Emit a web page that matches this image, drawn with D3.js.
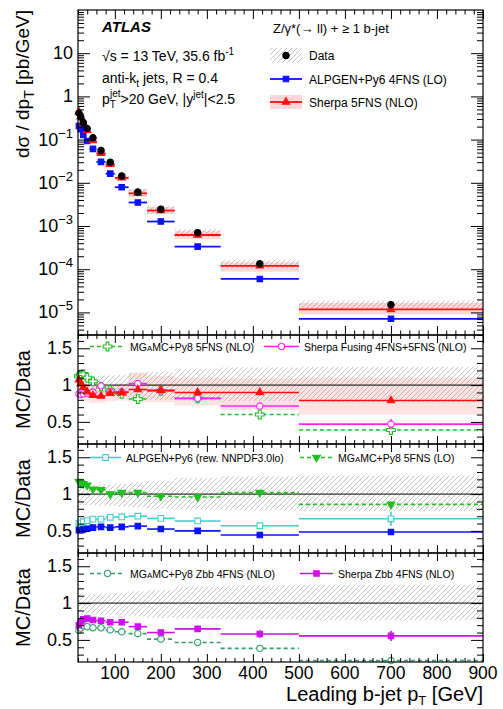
<!DOCTYPE html>
<html>
<head>
<meta charset="utf-8">
<script src="https://cdn.jsdelivr.net/npm/d3@7"></script>
<style>
  body { margin: 0; background: #fff; }
  svg { display: block; font-family: "Liberation Sans", Arial, Helvetica, sans-serif; }
</style>
</head>
<body>
<svg id="chart" width="503" height="709"></svg>
<script>
// bin edges of leading b-jet pT [GeV]
const binEdges = [20, 24, 28, 35, 45, 60, 80, 100, 130, 170, 230, 330, 500, 900];

// main panel, dσ/dpT [pb/GeV]
const dataVals   = [0.41, 0.33, 0.25, 0.18, 0.11, 0.056, 0.030, 0.0144, 0.0061, 0.00245, 7.0e-4, 1.33e-4, 1.5e-5];
const alpgenMain = [0.207, 0.174, 0.128, 0.093, 0.061, 0.0305, 0.0163, 0.0079, 0.0035, 0.00127, 3.33e-4, 5.96e-5, 7.1e-6];
const sherpaMain = [0.44, 0.335, 0.243, 0.164, 0.095, 0.048, 0.0267, 0.0130, 0.0057, 0.00228, 6.2e-4, 1.2e-4, 1.17e-5];

// relative data uncertainty (hatched band)
const dataErrUp = [0.12, 0.12, 0.12, 0.12, 0.12, 0.13, 0.13, 0.14, 0.16, 0.18, 0.22, 0.24, 0.25];
const dataErrDn = [0.15, 0.15, 0.15, 0.15, 0.15, 0.16, 0.16, 0.17, 0.18, 0.20, 0.21, 0.22, 0.23];

// Sherpa 5FNS theory band, as MC/Data
const sherpaBandLo = [0.88, 0.85, 0.80, 0.78, 0.76, 0.76, 0.78, 0.79, 0.77, 0.77, 0.72, 0.66, 0.60];
const sherpaBandHi = [1.20, 1.15, 1.10, 1.02, 0.98, 0.98, 1.00, 1.02, 1.17, 1.12, 1.10, 1.09, 1.10];

// ratio panel 1
const sherpa5Ratio = [1.07, 1.02, 0.97, 0.91, 0.86, 0.85, 0.89, 0.90, 0.94, 0.93, 0.90, 0.90, 0.79];
const sherpa5Err   = [0.01, 0.01, 0.01, 0.01, 0.01, 0.01, 0.01, 0.01, 0.01, 0.01, 0.01, 0.015, 0.02];
const mg5NloRatio  = [1.12, 1.14, 1.15, 1.10, 1.05, 0.98, 0.93, 0.88, 0.81, 0.92, 0.82, 0.60, 0.39];
const mg5NloErr    = [0.01, 0.01, 0.01, 0.01, 0.01, 0.01, 0.01, 0.01, 0.02, 0.02, 0.02, 0.03, 0.03];
const fusingRatio  = [0.88, 0.87, 0.88, 0.89, 0.905, 0.99, 0.91, 0.91, 1.02, 0.92, 0.82, 0.715, 0.47];
const fusingErr    = [0.02, 0.01, 0.01, 0.01, 0.01, 0.01, 0.01, 0.01, 0.02, 0.02, 0.02, 0.04, 0.07];

// ratio panel 2
const alpgenRwRatio = [0.60, 0.61, 0.625, 0.64, 0.66, 0.66, 0.685, 0.69, 0.70, 0.67, 0.635, 0.57, 0.665];
const alpgenRwErr   = [0.01, 0.01, 0.01, 0.01, 0.01, 0.01, 0.01, 0.01, 0.01, 0.02, 0.02, 0.03, 0.10];
const mg5LoRatio    = [1.17, 1.15, 1.14, 1.12, 1.065, 1.06, 1.00, 1.02, 1.02, 0.97, 0.96, 1.02, 0.86];
const mg5LoErr      = [0.01, 0.01, 0.01, 0.01, 0.01, 0.01, 0.01, 0.01, 0.01, 0.01, 0.02, 0.02, 0.04];
const alpgenRatio   = [0.51, 0.51, 0.52, 0.53, 0.545, 0.555, 0.545, 0.555, 0.565, 0.525, 0.50, 0.445, 0.485];
const alpgenErr     = [0.01, 0.01, 0.01, 0.01, 0.01, 0.01, 0.01, 0.01, 0.01, 0.01, 0.01, 0.015, 0.03];

// ratio panel 3
const sherpaZbbRatio = [0.70, 0.75, 0.78, 0.79, 0.77, 0.76, 0.74, 0.74, 0.68, 0.60, 0.65, 0.58, 0.555];
const sherpaZbbErr   = [0.01, 0.01, 0.01, 0.01, 0.01, 0.01, 0.01, 0.01, 0.01, 0.02, 0.03, 0.05, 0.07];
const mgZbbRatio     = [0.63, 0.66, 0.69, 0.68, 0.665, 0.665, 0.635, 0.61, 0.585, 0.51, 0.465, 0.385, 0.22];
const mgZbbErr       = [0.01, 0.01, 0.01, 0.01, 0.01, 0.01, 0.01, 0.01, 0.01, 0.01, 0.01, 0.01, 0.01];

const xTicks = [100, 200, 300, 400, 500, 600, 700, 800, 900];
const logLabels = [10, 1, 0.1, 0.01, 1e-3, 1e-4, 1e-5];
const ratioTicks = [0.5, 1, 1.5];

// layout
const L = 78, R = 483;
const mainTop = 10, mainBot = 335;
const panels = [[335, 444], [444, 553], [553, 662]];

const svg = d3.select("#chart");
const x = d3.scaleLinear().domain([20, 900]).range([L, R]);
const yMain = d3.scaleLog().domain([3e-6, 100]).range([mainBot, mainTop]);
const yRatio = panels.map(p => d3.scaleLinear().domain([0.2, 1.68]).range([p[1], p[0]]));

const bins = d3.range(binEdges.length - 1).map(i => ({
  lo: binEdges[i], hi: binEdges[i + 1], c: (binEdges[i] + binEdges[i + 1]) / 2, i: i
}));

// hatch pattern used for the data uncertainty
const defs = svg.append("defs");
defs.append("pattern")
  .attr("id", "hatch").attr("patternUnits", "userSpaceOnUse")
  .attr("width", 5).attr("height", 5)
  .append("path").attr("d", "M-1,1 L1,-1 M0,5 L5,0 M4,6 L6,4")
  .attr("stroke", "#9a9a9a").attr("stroke-width", 0.6);

// ---------- markers ----------
function marker(g, kind, color, cx, cy) {
  let sym, fill = color, stroke = color, rot = 0, size = 30;
  switch (kind) {
    case "dot": sym = d3.symbolCircle; size = 32; break;
    case "square": sym = d3.symbolSquare; size = 30; break;
    case "osquare": sym = d3.symbolSquare; size = 32; fill = "#fff"; break;
    case "tri": sym = d3.symbolTriangle; size = 24; break;
    case "itri": sym = d3.symbolTriangle; size = 26; rot = 180; break;
    case "ocircle": sym = d3.symbolCircle; size = 32; fill = "#fff"; break;
    case "ocross": sym = d3.symbolCross; size = 42; fill = "#fff"; break;
  }
  g.append("path")
    .attr("d", d3.symbol().type(sym).size(size)())
    .attr("transform", `translate(${cx},${cy}) rotate(${rot})`)
    .attr("fill", fill).attr("stroke", stroke).attr("stroke-width", 1.1);
}

// horizontal bin bars + error bars + markers
function drawSeries(g, y, vals, errs, st) {
  const s = g.append("g");
  const rows = bins.map(b => ({ ...b, v: vals[b.i], e: errs ? errs[b.i] : 0 }));
  s.selectAll("line.h").data(rows).join("line")
    .attr("x1", d => x(d.lo)).attr("x2", d => x(d.hi))
    .attr("y1", d => y(d.v)).attr("y2", d => y(d.v))
    .attr("stroke", st.color).attr("stroke-width", st.width || 1.6)
    .attr("stroke-dasharray", st.dash || null);
  s.selectAll("line.v").data(rows.filter(d => d.e > 0)).join("line")
    .attr("x1", d => x(d.c)).attr("x2", d => x(d.c))
    .attr("y1", d => y(d.v - d.e)).attr("y2", d => y(d.v + d.e))
    .attr("stroke", st.color).attr("stroke-width", 1.6);
  rows.forEach(d => marker(s, st.marker, st.color, x(d.c), y(d.v)));
}

// ---------- frame, ticks ----------
function frame(top, bot, y, yMajor, yMinor, xLen) {
  const g = svg.append("g").attr("class", "frame");
  const xMinor = d3.range(20, 901, 20).filter(v => v % 100 !== 0);
  const cleanup = sel => sel.call(a => a.select(".domain").remove())
    .selectAll("line").attr("stroke", "#000");
  g.append("g").attr("transform", `translate(0,${bot})`)
    .call(d3.axisBottom(x).tickValues(xTicks).tickSize(-xLen).tickFormat("")).call(cleanup);
  g.append("g").attr("transform", `translate(0,${bot})`)
    .call(d3.axisBottom(x).tickValues(xMinor).tickSize(-xLen / 2).tickFormat("")).call(cleanup);
  g.append("g").attr("transform", `translate(0,${top})`)
    .call(d3.axisTop(x).tickValues(xTicks).tickSize(-xLen).tickFormat("")).call(cleanup);
  g.append("g").attr("transform", `translate(0,${top})`)
    .call(d3.axisTop(x).tickValues(xMinor).tickSize(-xLen / 2).tickFormat("")).call(cleanup);
  g.append("g").attr("transform", `translate(${L},0)`)
    .call(d3.axisLeft(y).tickValues(yMajor).tickSize(-12).tickFormat("")).call(cleanup);
  g.append("g").attr("transform", `translate(${L},0)`)
    .call(d3.axisLeft(y).tickValues(yMinor).tickSize(-6).tickFormat("")).call(cleanup);
  g.append("g").attr("transform", `translate(${R},0)`)
    .call(d3.axisRight(y).tickValues(yMajor).tickSize(-12).tickFormat("")).call(cleanup);
  g.append("g").attr("transform", `translate(${R},0)`)
    .call(d3.axisRight(y).tickValues(yMinor).tickSize(-6).tickFormat("")).call(cleanup);
  g.append("rect").attr("x", L).attr("y", top).attr("width", R - L).attr("height", bot - top)
    .attr("fill", "none").attr("stroke", "#000").attr("stroke-width", 1.2);
}

// ================= main panel =================
const main = svg.append("g");
// Sherpa theory band and data hatch boxes
main.selectAll("rect.band").data(bins).join("rect")
  .attr("x", d => x(d.lo)).attr("width", d => x(d.hi) - x(d.lo))
  .attr("y", d => yMain(dataVals[d.i] * sherpaBandHi[d.i]))
  .attr("height", d => yMain(dataVals[d.i] * sherpaBandLo[d.i]) - yMain(dataVals[d.i] * sherpaBandHi[d.i]))
  .attr("fill", "#f04848").attr("fill-opacity", 0.22);
main.selectAll("rect.hatch").data(bins).join("rect")
  .attr("x", d => x(d.lo)).attr("width", d => x(d.hi) - x(d.lo))
  .attr("y", d => yMain(dataVals[d.i] * (1 + dataErrUp[d.i])))
  .attr("height", d => yMain(dataVals[d.i] * (1 - dataErrDn[d.i])) - yMain(dataVals[d.i] * (1 + dataErrUp[d.i])))
  .attr("fill", "url(#hatch)");
drawSeries(main, yMain, alpgenMain, null, { color: "#0a14f0", marker: "square", width: 1.8 });
drawSeries(main, yMain, sherpaMain, null, { color: "#ff1010", marker: "tri", width: 1.8 });
bins.forEach(b => marker(main, "dot", "#000", x(b.c), yMain(dataVals[b.i])));

const logMinor = [];
d3.range(-6, 2).forEach(e => d3.range(2, 10).forEach(k => {
  const v = k * Math.pow(10, e);
  if (v >= 3e-6 && v <= 100) logMinor.push(v);
}));
frame(mainTop, mainBot, yMain, [1e-5, 1e-4, 1e-3, 1e-2, 0.1, 1, 10], logMinor, 9);

// log tick labels
const yLab = svg.append("g").attr("font-size", 18).attr("text-anchor", "end");
logLabels.forEach(v => {
  const t = yLab.append("text").attr("x", 73).attr("y", yMain(v) + 6);
  const e = Math.round(Math.log10(v));
  if (e === 0) t.text("1");
  else if (e === 1) t.text("10");
  else {
    t.append("tspan").text("10");
    t.append("tspan").attr("font-size", 13).attr("dy", -8).text("\u2212" + (-e));
  }
});

// y title
svg.append("text")
  .attr("transform", `translate(29,${mainTop}) rotate(-90)`)
  .attr("text-anchor", "end").attr("font-size", 19)
  .call(t => {
    t.append("tspan").text("d\u03c3 / dp");
    t.append("tspan").attr("font-size", 14).attr("dy", 5).text("T");
    t.append("tspan").attr("dy", -5).text(" [pb/GeV]");
  });

// ATLAS label
const info = svg.append("g").attr("font-size", 14);
info.append("text").attr("x", 102).attr("y", 32)
  .attr("font-weight", "bold").attr("font-style", "italic").attr("font-size", 15).text("ATLAS");
info.append("text").attr("x", 102).attr("y", 61).call(t => {
  t.append("tspan").text("\u221as = 13 TeV, 35.6 fb");
  t.append("tspan").attr("font-size", 10).attr("dy", -6).text("-1");
});
info.append("text").attr("x", 102).attr("y", 83).call(t => {
  t.append("tspan").text("anti-k");
  t.append("tspan").attr("font-size", 10).attr("dy", 4).text("t");
  t.append("tspan").attr("dy", -4).text(" jets, R = 0.4");
});
info.append("text").attr("x", 102).attr("y", 104).call(t => {
  t.append("tspan").text("p");
  t.append("tspan").attr("font-size", 10).attr("dy", 4).text("T");
  t.append("tspan").attr("font-size", 10).attr("dx", -6).attr("dy", -11).text("jet");
  t.append("tspan").attr("dy", 7).text(">20 GeV, |y");
  t.append("tspan").attr("font-size", 10).attr("dy", -6).text("jet");
  t.append("tspan").attr("dy", 6).text("|<2.5");
});

// main legend
const leg = svg.append("g").attr("font-size", 12);
leg.append("text").attr("x", 273).attr("y", 33).attr("font-size", 13)
  .text("Z/\u03b3*(\u2192 ll) + \u2265 1 b-jet");
leg.append("rect").attr("x", 270).attr("y", 48).attr("width", 32).attr("height", 15).attr("fill", "url(#hatch)");
marker(leg, "dot", "#000", 286, 55.5);
leg.append("text").attr("x", 309).attr("y", 60).text("Data");
leg.append("line").attr("x1", 270).attr("x2", 302).attr("y1", 79).attr("y2", 79)
  .attr("stroke", "#0a14f0").attr("stroke-width", 1.8);
marker(leg, "square", "#0a14f0", 286, 79);
leg.append("text").attr("x", 309).attr("y", 83.5).text("ALPGEN+Py6 4FNS (LO)");
leg.append("rect").attr("x", 270).attr("y", 95).attr("width", 32).attr("height", 14)
  .attr("fill", "#f04848").attr("fill-opacity", 0.22);
leg.append("line").attr("x1", 270).attr("x2", 302).attr("y1", 102).attr("y2", 102)
  .attr("stroke", "#ff1010").attr("stroke-width", 1.8);
marker(leg, "tri", "#ff1010", 286, 102);
leg.append("text").attr("x", 309).attr("y", 106.5).text("Sherpa 5FNS (NLO)");

// ================= ratio panels =================
const ratioMinor = d3.range(0.3, 1.65, 0.1).map(v => +v.toFixed(1)).filter(v => !ratioTicks.includes(v));

function ratioPanel(k, withBand) {
  const y = yRatio[k];
  const [top, bot] = panels[k];
  const g = svg.append("g");
  if (withBand) {
    g.selectAll("rect.band").data(bins).join("rect")
      .attr("x", d => x(d.lo)).attr("width", d => x(d.hi) - x(d.lo))
      .attr("y", d => y(sherpaBandHi[d.i]))
      .attr("height", d => y(sherpaBandLo[d.i]) - y(sherpaBandHi[d.i]))
      .attr("fill", "#f04848").attr("fill-opacity", 0.16);
  }
  g.selectAll("rect.hatch").data(bins).join("rect")
    .attr("x", d => x(d.lo)).attr("width", d => x(d.hi) - x(d.lo))
    .attr("y", d => y(1 + dataErrUp[d.i]))
    .attr("height", d => y(1 - dataErrDn[d.i]) - y(1 + dataErrUp[d.i]))
    .attr("fill", "url(#hatch)");
  g.append("line").attr("x1", L).attr("x2", R).attr("y1", y(1)).attr("y2", y(1))
    .attr("stroke", "#000").attr("stroke-width", 1);
  frame(top, bot, y, ratioTicks, ratioMinor, 8);
  const lab = svg.append("g").attr("font-size", 18).attr("text-anchor", "end");
  ratioTicks.forEach(v => lab.append("text").attr("x", 72).attr("y", y(v) + 6).text(v));
  svg.append("text")
    .attr("transform", `translate(30,${(top + bot) / 2}) rotate(-90)`)
    .attr("text-anchor", "middle").attr("font-size", 20).text("MC/Data");
  return g;
}

function mgText(t, rest) {
  t.append("tspan").text("MG");
  t.append("tspan").attr("font-size", 8).text("A");
  t.append("tspan").text(rest);
}

function legendEntry(g, x0, x1, y, st, label) {
  g.append("line").attr("x1", x0).attr("x2", x1).attr("y1", y).attr("y2", y)
    .attr("stroke", st.color).attr("stroke-width", 1.6).attr("stroke-dasharray", st.dash || null);
  marker(g, st.marker, st.color, (x0 + x1) / 2, y);
  const t = g.append("text").attr("x", x1 + 5).attr("y", y + 4).attr("font-size", 10.5);
  if (typeof label === "string") t.text(label); else label(t);
}

const cGreen = "#1fbf1f", cMag = "#ff22ff", cCyan = "#44cccc", cBlue = "#0a14f0",
      cTeal = "#33a06a", cPurple = "#cc11ee", cRed = "#ff1010";

// panel 1
const p1 = ratioPanel(0, true);
drawSeries(p1, yRatio[0], mg5NloRatio, mg5NloErr, { color: cGreen, marker: "ocross", dash: "4,3" });
drawSeries(p1, yRatio[0], fusingRatio, fusingErr, { color: cMag, marker: "ocircle" });
drawSeries(p1, yRatio[0], sherpa5Ratio, sherpa5Err, { color: cRed, marker: "tri" });
legendEntry(p1, 90, 125, 346.5, { color: cGreen, marker: "ocross", dash: "4,3" },
  t => mgText(t, "MC+Py8 5FNS (NLO)"));
legendEntry(p1, 264, 299, 346.5, { color: cMag, marker: "ocircle" }, "Sherpa Fusing 4FNS+5FNS (NLO)");

// panel 2
const p2 = ratioPanel(1, false);
drawSeries(p2, yRatio[1], alpgenRwRatio, alpgenRwErr, { color: cCyan, marker: "osquare" });
drawSeries(p2, yRatio[1], mg5LoRatio, mg5LoErr, { color: cGreen, marker: "itri", dash: "4,3" });
drawSeries(p2, yRatio[1], alpgenRatio, alpgenErr, { color: cBlue, marker: "square" });
legendEntry(p2, 90, 121, 457.5, { color: cCyan, marker: "osquare" }, "ALPGEN+Py6 (rew. NNPDF3.0lo)");
legendEntry(p2, 300, 333, 457.5, { color: cGreen, marker: "itri", dash: "4,3" },
  t => mgText(t, "MC+Py8 5FNS (LO)"));

// panel 3
const p3 = ratioPanel(2, false);
drawSeries(p3, yRatio[2], mgZbbRatio, mgZbbErr, { color: cTeal, marker: "ocircle", dash: "4,3" });
drawSeries(p3, yRatio[2], sherpaZbbRatio, sherpaZbbErr, { color: cPurple, marker: "square" });
legendEntry(p3, 90, 125, 573.5, { color: cTeal, marker: "ocircle", dash: "4,3" },
  t => mgText(t, "MC+Py8 Zbb 4FNS (NLO)"));
legendEntry(p3, 300, 333, 573.5, { color: cPurple, marker: "square" }, "Sherpa Zbb 4FNS (NLO)");

// x tick labels and title
const xl = svg.append("g").attr("font-size", 17.5).attr("text-anchor", "middle");
xTicks.forEach(v => xl.append("text").attr("x", x(v)).attr("y", 679).text(v));
svg.append("text").attr("x", R).attr("y", 701).attr("text-anchor", "end").attr("font-size", 20)
  .call(t => {
    t.append("tspan").text("Leading b-jet p");
    t.append("tspan").attr("font-size", 13).attr("dy", 3.5).text("T");
    t.append("tspan").attr("dy", -3.5).text(" [GeV]");
  });
</script>
</body>
</html>
